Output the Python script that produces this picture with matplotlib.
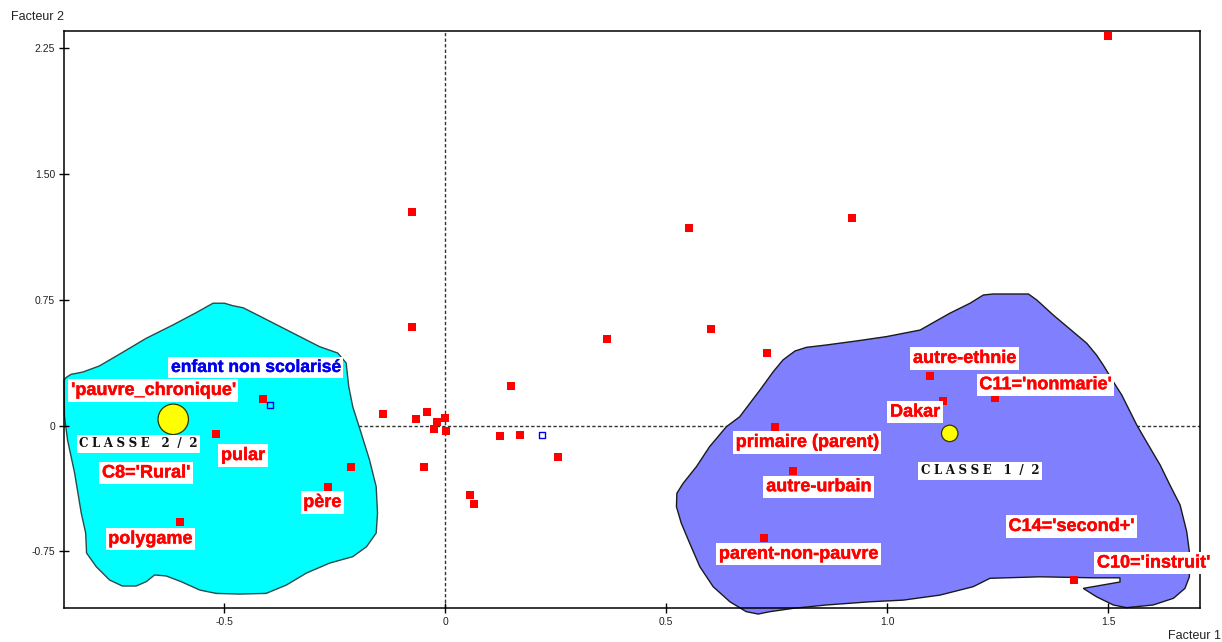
import matplotlib
matplotlib.use("Agg")
import matplotlib.pyplot as plt
import matplotlib.patheffects as pe
from matplotlib.patches import Polygon

# ---- active modalities shown without a printed label ----
free_x = [1.499, -0.074, 0.919, 0.552, 0.602, -0.076, 0.366, 0.728, 0.148,
          -0.141, -0.041, -0.067, -0.019, 0.000, -0.025, 0.002, 0.124, 0.169,
          0.255, -0.212, -0.049, 0.057, 0.066]
free_y = [2.320, 1.275, 1.239, 1.178, 0.577, 0.586, 0.518, 0.434, 0.234,
          0.070, 0.082, 0.039, 0.023, 0.047, -0.021, -0.033, -0.063, -0.058,
          -0.190, -0.249, -0.249, -0.414, -0.468]

# ---- labelled active modalities ----
mod_names = ["'pauvre_chronique'", "pular", "père", "polygame", "autre-ethnie",
             "Dakar", "C11='nonmarie'", "primaire (parent)", "autre-urbain",
             "parent-non-pauvre", "C10='instruit'"]
mod_x = [-0.412, -0.519, -0.265, -0.600, 1.096, 1.126, 1.243, 0.747, 0.787,
         0.721, 1.423]
mod_y = [0.156, -0.051, -0.367, -0.577, 0.293, 0.148, 0.166, -0.007, -0.269,
         -0.671, -0.919]

# ---- illustrative modalities (open blue squares) ----
sup_names = ["enfant non scolarisé", ""]
sup_x = [-0.396, 0.219]
sup_y = [0.122, -0.058]

# ---- class centres ----
class_names = ["CLASSE 1 / 2", "CLASSE 2 / 2"]
class_x = [1.141, -0.615]
class_y = [-0.047, 0.037]

# ---- class regions (outline vertices in factor coordinates) ----
class2_x = [-0.862, -0.857, -0.846, -0.819, -0.782, -0.736, -0.676, -0.616,
            -0.563, -0.525, -0.499, -0.480, -0.457, -0.420, -0.345, -0.284,
            -0.243, -0.224, -0.218, -0.209, -0.190, -0.171, -0.156, -0.153,
            -0.156, -0.178, -0.209, -0.261, -0.314, -0.359, -0.405, -0.465,
            -0.518, -0.555, -0.597, -0.631, -0.657, -0.676, -0.699, -0.730,
            -0.759, -0.789, -0.811, -0.813, -0.823, -0.838, -0.854, -0.861]
class2_y = [0.271, 0.287, 0.305, 0.319, 0.355, 0.426, 0.520, 0.599,
            0.673, 0.729, 0.729, 0.714, 0.702, 0.653, 0.552, 0.470,
            0.432, 0.373, 0.231, 0.112, -0.045, -0.206, -0.365, -0.522,
            -0.641, -0.723, -0.782, -0.820, -0.880, -0.951, -1.001, -1.005,
            -1.001, -0.981, -0.931, -0.897, -0.891, -0.931, -0.957, -0.957,
            -0.921, -0.842, -0.760, -0.641, -0.522, -0.283, -0.086, 0.057]

class1_x = [0.791, 0.817, 0.862, 0.930, 0.998, 1.074, 1.141, 1.187, 1.217,
            1.239, 1.319, 1.338, 1.375, 1.420, 1.451, 1.473, 1.488, 1.511,
            1.530, 1.549, 1.564, 1.586, 1.617, 1.639, 1.662, 1.677, 1.683,
            1.683, 1.673, 1.647, 1.601, 1.541, 1.511, 1.473, 1.443, 1.526,
            1.526, 1.466, 1.345, 1.232, 1.194, 1.119, 1.036, 0.960, 0.862,
            0.787, 0.734, 0.708, 0.681, 0.644, 0.606, 0.576, 0.553, 0.534,
            0.523, 0.524, 0.538, 0.568, 0.598, 0.636, 0.666, 0.712, 0.742,
            0.764]
class1_y = [0.444, 0.466, 0.480, 0.504, 0.530, 0.569, 0.669, 0.729, 0.778,
            0.784, 0.784, 0.748, 0.659, 0.559, 0.490, 0.420, 0.361, 0.261,
            0.182, 0.082, 0.003, -0.097, -0.236, -0.355, -0.474, -0.633, -0.753,
            -0.902, -0.971, -1.030, -1.070, -1.086, -1.070, -1.021, -0.971, -0.933,
            -0.908, -0.908, -0.902, -0.911, -0.961, -1.011, -1.041, -1.051, -1.070,
            -1.090, -1.110, -1.124, -1.110, -1.051, -0.961, -0.842, -0.702, -0.583,
            -0.484, -0.404, -0.345, -0.246, -0.126, -0.007, 0.052, 0.212, 0.321,
            0.391]

# ---- tick values ----
xticks = [-0.5, 0.0, 0.5, 1.0, 1.5]
xtick_labels = ["-0.5", "0", "0.5", "1.0", "1.5"]
yticks = [-0.75, 0.0, 0.75, 1.5, 2.25]
ytick_labels = ["-0.75", "0", "0.75", "1.50", "2.25"]

# ---- label anchors (left edge, vertical centre) ----
label_pos = {
    "enfant non scolarisé": (-0.620, 0.346),
    "'pauvre_chronique'": (-0.846, 0.209),
    "pular": (-0.507, -0.179),
    "C8='Rural'": (-0.776, -0.283),
    "père": (-0.321, -0.459),
    "polygame": (-0.762, -0.677),
    "autre-ethnie": (1.058, 0.400),
    "C11='nonmarie'": (1.208, 0.243),
    "Dakar": (1.006, 0.080),
    "primaire (parent)": (0.657, -0.101),
    "autre-urbain": (0.726, -0.365),
    "parent-non-pauvre": (0.619, -0.767),
    "C14='second+'": (1.274, -0.602),
    "C10='instruit'": (1.474, -0.820),
    "CLASSE 2 / 2": (-0.827, -0.110),
    "CLASSE 1 / 2": (1.075, -0.271),
}
extra_labels = ["C8='Rural'", "C14='second+'"]
class_marker_size = [140, 480]


def spaced(text):
    """Letter-spaced rendering of a class caption."""
    gap = "\u2009\u200a"
    word, rest = text.split(" ", 1)
    num, den = [p.strip() for p in rest.split("/")]
    return (gap.join(word) + "  " + gap + num + " " + gap + "/" + " " + gap + den)


W, H = 1222, 642
fig = plt.figure(figsize=(W / 100, H / 100), dpi=100)
ax = fig.add_axes([64 / W, 1 - 608 / H, (1200 - 64) / W, (608 - 31) / H])
ax.set_xlim(-0.862, 1.707)
ax.set_ylim(-1.088, 2.352)

# class regions
ax.add_patch(Polygon(list(zip(class2_x, class2_y)), closed=True,
                     facecolor="#00FFFF", edgecolor="#2b4a4a", lw=1.0,
                     zorder=1, clip_on=False))
ax.add_patch(Polygon(list(zip(class1_x, class1_y)), closed=True,
                     facecolor="#8080FF", edgecolor="#1a1a1a", lw=1.0,
                     zorder=1, clip_on=False))

# origin lines
ax.axhline(0, color="#333333", lw=1.0, ls=(0, (2.4, 1.6)), zorder=0.5)
ax.axvline(0, color="#333333", lw=1.0, ls=(0, (2.4, 1.6)), zorder=0.5)

# modalities
ax.scatter(free_x, free_y, marker="s", s=26, c="#FF0000", linewidths=0, zorder=3)
ax.scatter(mod_x, mod_y, marker="s", s=26, c="#FF0000", linewidths=0, zorder=3)
ax.scatter(sup_x, sup_y, marker="s", s=18, facecolors="none",
           edgecolors="#0000EE", linewidths=1.0, zorder=3)
ax.scatter(class_x, class_y, s=class_marker_size, c="#FFFF00",
           edgecolors="#333300", linewidths=0.9, zorder=3)

box = dict(boxstyle="square,pad=0.15", fc="white", ec="none")
for name in mod_names + extra_labels:
    lx, ly = label_pos[name]
    ax.text(lx, ly, name, color="#FF0000", fontsize=13, fontweight="bold",
            family="Liberation Sans", ha="left", va="center", bbox=box,
            zorder=4, clip_on=False,
            path_effects=[pe.withStroke(linewidth=0.3, foreground="#FF0000")])
for name in sup_names:
    if name:
        lx, ly = label_pos[name]
        ax.text(lx, ly, name, color="#0000EE", fontsize=12.6, fontweight="bold",
                family="Liberation Sans", ha="left", va="center", bbox=box,
                zorder=4,
                path_effects=[pe.withStroke(linewidth=0.25, foreground="#0000EE")])
for name in class_names:
    lx, ly = label_pos[name]
    ax.text(lx, ly, spaced(name), color="#111111", fontsize=8.6,
            fontweight="bold", family="DejaVu Serif", ha="left",
            va="center", bbox=dict(boxstyle="square,pad=0.2", fc="white",
                                   ec="none"), zorder=4)

ax.set_xticks(xticks)
ax.set_xticklabels(xtick_labels)
ax.set_yticks(yticks)
ax.set_yticklabels(ytick_labels)
ax.tick_params(direction="inout", length=7, width=1.0, colors="black",
               labelsize=7.5, labelcolor="#222222", pad=3)
for lab in ax.get_xticklabels() + ax.get_yticklabels():
    lab.set_family("Liberation Sans")
for sp in ax.spines.values():
    sp.set_linewidth(1.1)
    sp.set_color("black")

fig.text(11 / W, 1 - 17 / H, "Facteur 2", fontsize=9, family="Liberation Sans",
         color="#222222", ha="left", va="center")
fig.text(1168 / W, 1 - 636 / H, "Facteur 1", fontsize=9,
         family="Liberation Sans", color="#222222", ha="left", va="center")

fig.savefig("out.png", dpi=100, facecolor="white")
